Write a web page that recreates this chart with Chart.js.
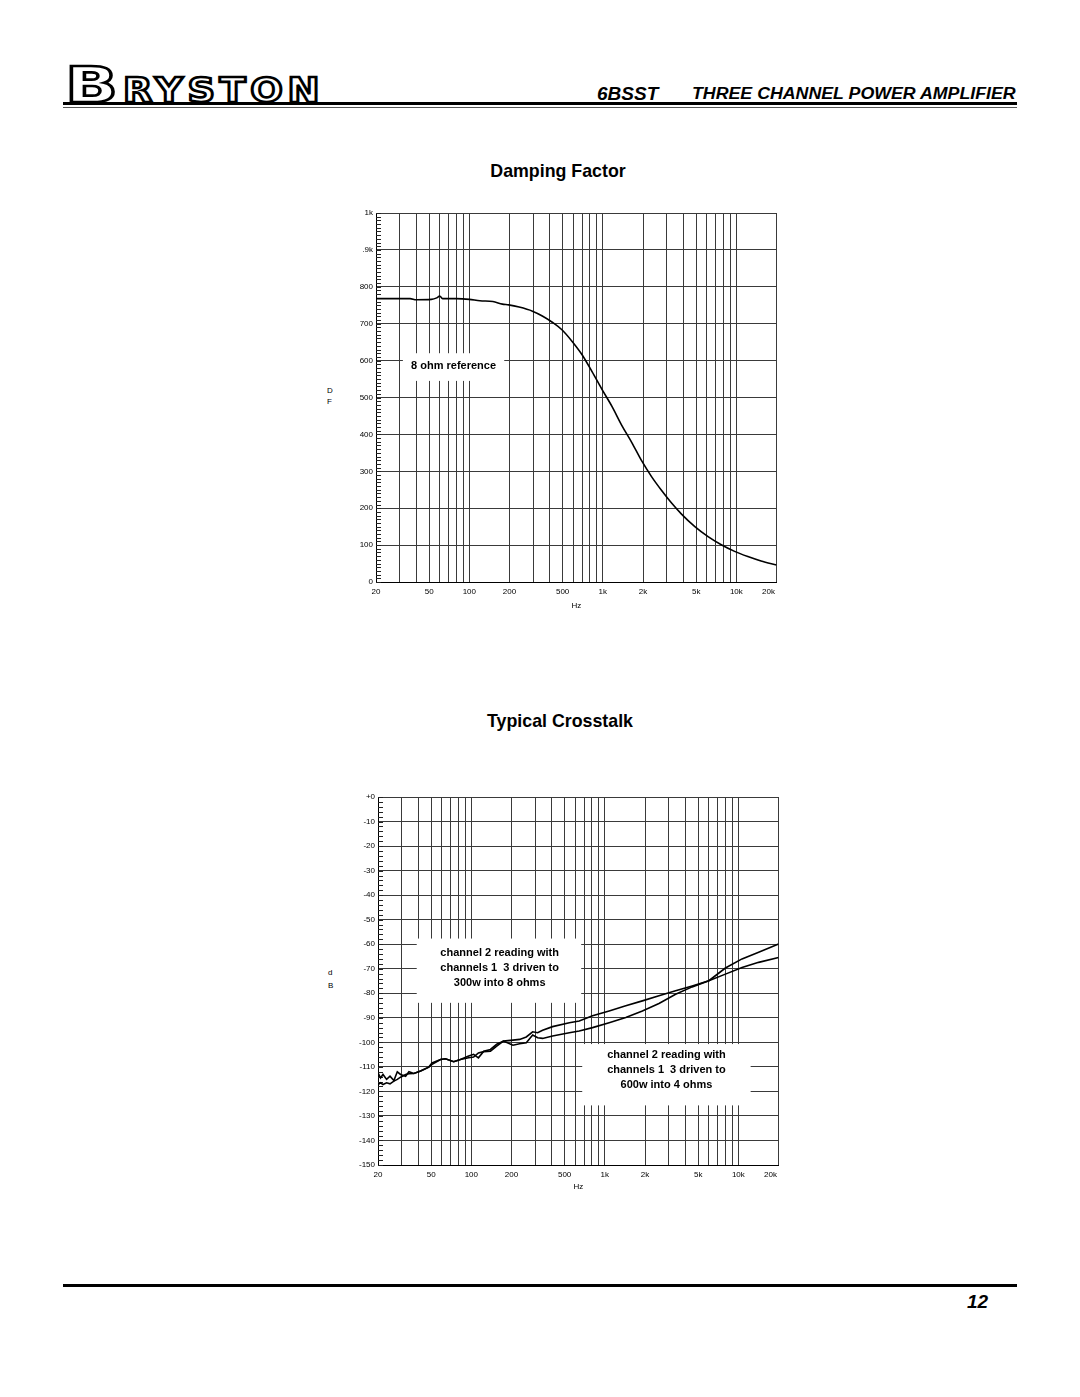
<!DOCTYPE html>
<html>
<head>
<meta charset="utf-8">
<title>6BSST - Damping Factor / Typical Crosstalk</title>
<script src="https://cdn.jsdelivr.net/npm/chart.js@4.4.1/dist/chart.umd.min.js"></script>
<style>
  html, body { margin: 0; padding: 0; background: #fff; }
  #page { position: relative; width: 1080px; height: 1397px; overflow: hidden;
          font-family: Arial, "Liberation Sans", sans-serif; color: #000; }
  #page > * { position: absolute; margin: 0; }
  .logo { font-family: "DejaVu Sans", sans-serif; font-weight: bold; color: #fff;
          -webkit-text-stroke: 2.6px #000; line-height: 1; white-space: nowrap;
          transform-origin: left top; }
  .logoB { left: 65px; top: 60px; font-size: 50px; transform: scaleX(1.39); }
  .logoRest { left: 123px; top: 74px; font-size: 33px; letter-spacing: 4px; transform: scaleX(1.16); }
  .rule { background: #000; }
  .head { font-weight: bold; font-style: italic; line-height: 1; white-space: nowrap; transform-origin: left top; }
  .h2 { font-weight: bold; font-size: 17.8px; line-height: 1; white-space: nowrap; width: 300px; text-align: center; }
  .axisName { font-size: 8px; line-height: 1; color: #000; }
  canvas { display: block; }
</style>
</head>
<body>
<div id="page">
  <div class="logo logoB">B</div>
  <div class="logo logoRest">RYSTON</div>
  <div class="rule" style="left:63px; top:102px; width:954px; height:3px;"></div>
  <div class="rule" style="left:63px; top:107px; width:954px; height:1px; background:#555;"></div>
  <div class="head" style="left:597px; top:84px; font-size:19px;">6BSST</div>
  <div class="head" style="left:692px; top:86px; font-size:16px; transform:scaleX(1.11);">THREE CHANNEL POWER AMPLIFIER</div>

  <div class="h2" style="left:408px; top:163px;">Damping Factor</div>
  <div class="axisName" style="left:327px; top:387px;">D</div>
  <div class="axisName" style="left:327px; top:398px;">F</div>
  <div style="left:316px; top:200px;"><canvas id="damping" width="480" height="425"></canvas></div>

  <div class="h2" style="left:410px; top:713px;">Typical Crosstalk</div>
  <div class="axisName" style="left:328px; top:969px;">d</div>
  <div class="axisName" style="left:328px; top:982px;">B</div>
  <div style="left:318px; top:784px;"><canvas id="crosstalk" width="480" height="425"></canvas></div>

  <div class="rule" style="left:63px; top:1284px; width:954px; height:3px;"></div>
  <div class="head" style="left:967px; top:1292px; font-size:19px;">12</div>
</div>

<script>
// frequency axis (shared by both graphs)
const gridFreqs = [20, 30, 40, 50, 60, 70, 80, 90, 100, 200, 300, 400, 500, 600, 700, 800, 900,
                   1000, 2000, 3000, 4000, 5000, 6000, 7000, 8000, 9000, 10000, 20000];
const labelFreqs = [20, 50, 100, 200, 500, 1000, 2000, 5000, 10000, 20000];
const labelFreqText = ['20', '50', '100', '200', '500', '1k', '2k', '5k', '10k', '20k\u2003\u2003'];

// damping factor axis + curve
const dfTicks = [0, 100, 200, 300, 400, 500, 600, 700, 800, 900, 1000];
const dfTickText = ['0', '100', '200', '300', '400', '500', '600', '700', '800', '.9k', '1k'];
const dfFreq = [20, 30, 36, 40, 52, 57, 60, 63, 80, 100, 120, 150, 177, 197, 236, 297, 352, 418, 496,
                589, 699, 830, 985, 1170, 1389, 1648, 1956, 2322, 2756, 3272, 3884, 4887, 6138, 7710,
                9702, 12190, 15310, 20000];
const dfValue = [768, 768, 768, 765, 766, 770, 775, 768, 768, 766, 762, 760, 753, 751, 745, 734, 721, 704, 683,
                 652, 616, 570, 522, 476, 424, 378, 328, 285, 248, 214, 184, 150, 123, 101,
                 83, 69, 57, 46];

// crosstalk axis + curves
const dbTicks = [0, -10, -20, -30, -40, -50, -60, -70, -80, -90, -100, -110, -120, -130, -140, -150];
const dbTickText = ['+0', '-10', '-20', '-30', '-40', '-50', '-60', '-70', '-80', '-90', '-100', '-110', '-120', '-130', '-140', '-150'];
const ctFreq = [20, 20.9, 21.8, 23.2, 24.6, 26.3, 27.9, 29.5, 32.2, 34.1, 37.1, 41.7, 48, 50.8, 58.8, 64, 73.8, 82.8,
                95.5, 104, 113, 124, 139, 155, 174, 205, 230, 258, 288, 314, 342, 406, 542, 643, 809, 1077,
                1435, 1910, 2543, 3388, 4510, 6010, 8000, 10650, 14190, 20000];
const ct300w8ohm = [-112.4, -114.5, -113.1, -115.1, -113.8, -115.6, -112.0, -113.1, -113.8, -112.0, -112.7, -111.7, -110.1, -108.4, -107.0, -106.7, -107.9, -107.0,
                    -106.3, -106.0, -104.3, -103.8, -103.6, -101.5, -99.5, -99.1, -98.8, -97.8, -95.7, -96.1, -95.1, -93.6, -92.0, -91.3, -89.2, -87.2,
                    -85.1, -83.1, -81.0, -79.0, -77.0, -74.9, -72.2, -69.5, -67.4, -65.4];
const ct600w4ohm = [-117.2, -116.5, -117.2, -116.5, -116.9, -115.8, -115.1, -114.2, -113.1, -112.8, -112.7, -111.7, -110.1, -109.0, -107.0, -106.7, -107.9, -107.0,
                    -105.6, -104.9, -106.3, -103.6, -102.9, -100.8, -99.5, -101.2, -100.6, -100.2, -97.0, -98.1, -98.4, -97.4, -96.1, -95.4, -94.0, -92.0,
                    -89.9, -87.2, -84.2, -80.4, -77.4, -74.9, -69.7, -66.0, -63.3, -59.9];

const FONT = '"Liberation Sans", Arial, sans-serif';
const GRID = '#3a3a3a';

// short inside ticks along the left edge of the plot
const minorTicks = {
    id: 'minorTicks',
    beforeDatasetsDraw(chart, args, opts) {
        const y = chart.scales.y;
        const area = chart.chartArea;
        const ctx = chart.ctx;
        ctx.save();
        ctx.strokeStyle = '#222';
        ctx.lineWidth = 1;
        ctx.beginPath();
        for (let v = y.min; v <= y.max; v += opts.step) {
            const py = Math.round(y.getPixelForValue(v)) + 0.5;
            ctx.moveTo(area.left, py);
            ctx.lineTo(area.left + opts.length, py);
        }
        ctx.stroke();
        ctx.restore();
    }
};

// white label boxes that cut through the grid
const notes = {
    id: 'notes',
    beforeDatasetsDraw(chart, args, opts) {
        const { x, y } = chart.scales;
        const ctx = chart.ctx;
        ctx.save();
        for (const n of opts.items) {
            const l = x.getPixelForValue(n.from[0]), r = x.getPixelForValue(n.to[0]);
            const t = y.getPixelForValue(n.from[1]), b = y.getPixelForValue(n.to[1]);
            ctx.fillStyle = '#fff';
            ctx.fillRect(l, t, r - l, b - t);
            ctx.fillStyle = '#000';
            ctx.font = 'bold 11px ' + FONT;
            ctx.textAlign = 'center';
            ctx.textBaseline = 'middle';
            const cx = x.getPixelForValue(n.at[0]);
            const cy = y.getPixelForValue(n.at[1]);
            n.lines.forEach((s, i) => ctx.fillText(s, cx, cy + i * 15));
        }
        ctx.restore();
    }
};

function freqAxis(height, hzPad) {
    return {
        type: 'logarithmic',
        min: 20,
        max: 20000,
        afterBuildTicks: (s) => { s.ticks = gridFreqs.map((v) => ({ value: v })); },
        afterFit: (s) => { s.height = height; },
        ticks: {
            autoSkip: false, maxRotation: 0, minRotation: 0, padding: 5, color: '#000',
            font: { family: FONT, size: 8 },
            callback: (v) => {
                const i = labelFreqs.indexOf(v);
                return i < 0 ? '' : labelFreqText[i];
            }
        },
        grid: { color: GRID, lineWidth: 1, drawTicks: false },
        border: { color: '#000', width: 1 },
        title: { display: true, text: 'Hz', color: '#000', font: { family: FONT, size: 8 }, padding: { top: 0, bottom: hzPad } }
    };
}

function valueAxis(min, max, ticks, text) {
    return {
        type: 'linear',
        min: min,
        max: max,
        afterBuildTicks: (s) => { s.ticks = ticks.map((v) => ({ value: v })); },
        afterFit: (s) => { s.width = 60; },
        ticks: {
            padding: 3, color: '#000', font: { family: FONT, size: 8 },
            callback: (v) => text[ticks.indexOf(v)]
        },
        grid: { color: GRID, lineWidth: 1, drawTicks: false },
        border: { color: '#000', width: 1 }
    };
}

const line = (xs, ys, label) => ({
    label: label,
    data: xs.map((f, i) => ({ x: f, y: ys[i] })),
    borderColor: '#000',
    borderWidth: 1.6,
    pointRadius: 0,
    fill: false
});

const dampingConfig = {
    type: 'line',
    data: {
        datasets: [Object.assign(line(dfFreq, dfValue, 'damping factor, 8 ohm reference'), { cubicInterpolationMode: 'monotone' })]
    },
    options: {
        responsive: false,
        animation: false,
        devicePixelRatio: 1,
        layout: { padding: { top: 13, right: 17, left: 0, bottom: 0 } },
        scales: {
            x: freqAxis(43, 14),
            y: valueAxis(0, 1000, dfTicks, dfTickText)
        },
        plugins: {
            legend: { display: false },
            tooltip: { enabled: false },
            minorTicks: { step: 10, length: 5 },
            notes: { items: [
                { from: [31.8, 620], to: [182.6, 545], at: [76.2, 585], lines: ['8 ohm reference'] }
            ] }
        }
    },
    plugins: [minorTicks, notes]
};

const crosstalkConfig = {
    type: 'line',
    data: {
        datasets: [
            line(ctFreq, ct300w8ohm, '300w into 8 ohms'),
            line(ctFreq, ct600w4ohm, '600w into 4 ohms')
        ]
    },
    options: {
        responsive: false,
        animation: false,
        devicePixelRatio: 1,
        layout: { padding: { top: 13, right: 18, left: 0, bottom: 0 } },
        scales: {
            x: freqAxis(44, 17),
            y: valueAxis(-150, 0, dbTicks, dbTickText)
        },
        plugins: {
            legend: { display: false },
            tooltip: { enabled: false },
            minorTicks: { step: 2, length: 5 },
            notes: { items: [
                { from: [39, -57.7], to: [665, -83.9], at: [163, -63.4],
                  lines: ['channel 2 reading with', 'channels 1  3 driven to', '300w into 8 ohms'] },
                { from: [677, -100.7], to: [12360, -125.7], at: [2893, -105.2],
                  lines: ['channel 2 reading with', 'channels 1  3 driven to', '600w into 4 ohms'] }
            ] }
        }
    },
    plugins: [minorTicks, notes]
};

new Chart(document.getElementById('damping'), dampingConfig);
new Chart(document.getElementById('crosstalk'), crosstalkConfig);
</script>
</body>
</html>
